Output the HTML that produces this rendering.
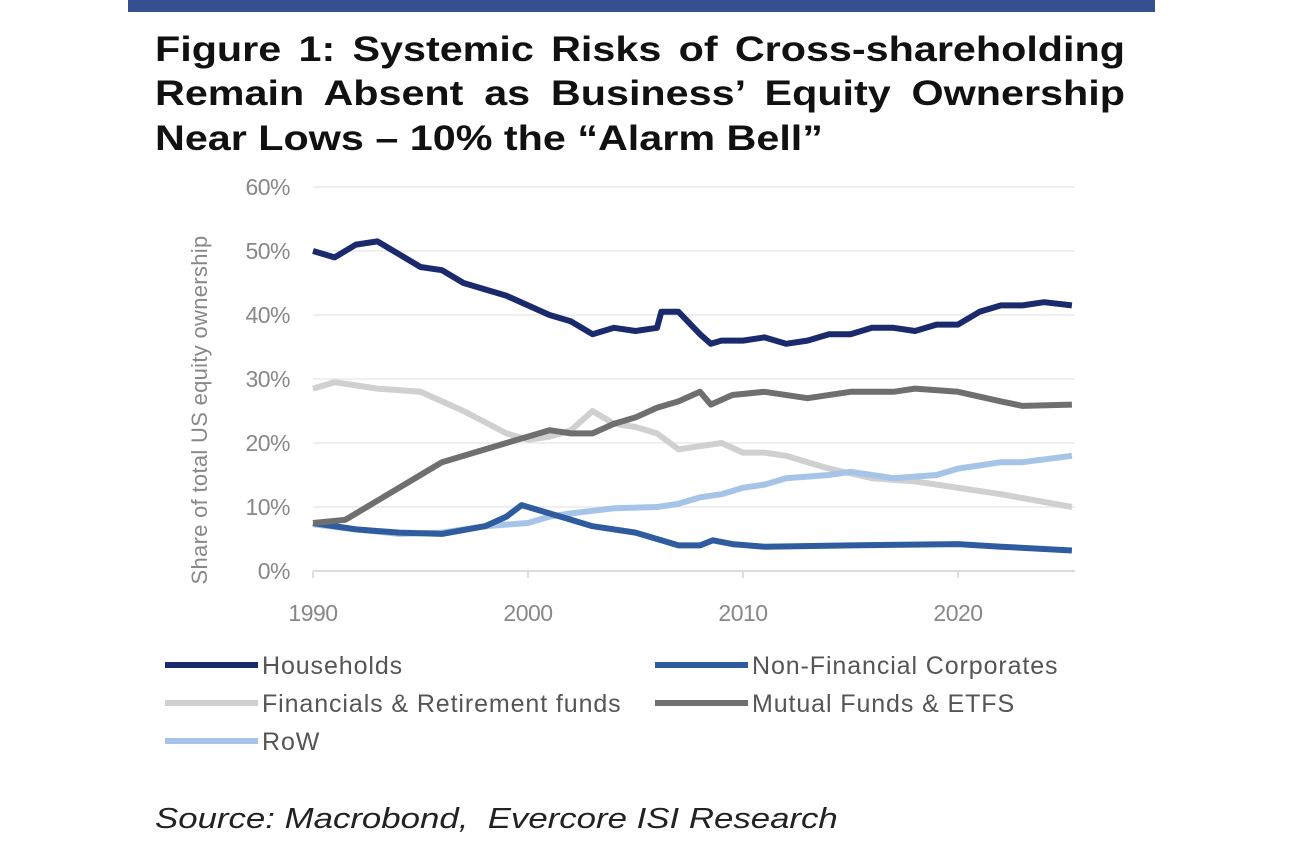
<!DOCTYPE html>
<html><head><meta charset="utf-8"><style>
body{margin:0;background:#fff;width:1290px;height:843px;overflow:hidden;font-family:"Liberation Sans",Arial,sans-serif}
#bar{position:absolute;left:128px;top:0;width:1027px;height:12px;background:#34508f}
.t{position:absolute;left:155px;width:822px;font-weight:bold;font-size:35px;color:#111;text-align:justify;text-align-last:justify;line-height:44px;transform:scaleX(1.18);transform-origin:0 0;white-space:nowrap}
#src{position:absolute;left:155px;top:803px;font-style:italic;font-size:29px;color:#222;transform:scaleX(1.2);transform-origin:0 0}
</style></head><body>
<div id="bar"></div>
<div class="t" style="top:28px">Figure 1: Systemic Risks of Cross-shareholding</div>
<div class="t" style="top:72px">Remain Absent as Business’ Equity Ownership</div>
<div class="t" style="top:117px;text-align:left;text-align-last:left">Near Lows – 10% the “Alarm Bell”</div>
<svg id="s" width="1290" height="843" style="position:absolute;left:0;top:0" font-family="Liberation Sans, Arial, sans-serif"></svg>
<div id="src">Source: Macrobond,&nbsp; Evercore ISI Research</div>
<script>
const X=y=>313+(y-1990)*21.5, Y=v=>571-v*6.4;
let h='';
for(let v=0;v<=60;v+=10){h+=`<line x1="313" x2="1075" y1="${Y(v)}" y2="${Y(v)}" stroke="${v?'#efefef':'#dcdcdc'}" stroke-width="2"/>`;
h+=`<text x="290" y="${Y(v)+8}" text-anchor="end" font-size="23" fill="#888" letter-spacing="-0.5">${v}%</text>`;}
[1990,2000,2010,2020].forEach(y=>{h+=`<line x1="${X(y)}" x2="${X(y)}" y1="571" y2="578" stroke="#ddd" stroke-width="2"/><text x="${X(y)}" y="621" text-anchor="middle" font-size="23" fill="#888" letter-spacing="-0.5">${y}</text>`});
h+=`<text transform="translate(207,410) rotate(-90)" text-anchor="middle" font-size="22" fill="#888" letter-spacing="0.3">Share of total US equity ownership</text>`;
const S=[
['#d0d0d0',[1990,28.5,1991,29.5,1993,28.5,1995,28,1997,25,1999,21.5,2000,20.5,2001,21,2002,22,2003,25,2004,23,2005,22.5,2006,21.5,2007,19,2008,19.5,2009,20,2010,18.5,2011,18.5,2012,18,2014,16,2016,14.5,2018,14,2020,13,2022,12,2025.3,10]],
['#a6c4e8',[1990,7.3,1992,6.5,1994,5.8,1996,6,1998,7,2000,7.5,2001,8.5,2002,9,2004,9.8,2006,10,2007,10.5,2008,11.5,2009,12,2010,13,2011,13.5,2012,14.5,2014,15,2015,15.5,2016,15,2017,14.5,2019,15,2020,16,2022,17,2023,17,2025.3,18]],
['#2e5c9e',[1990,7.5,1992,6.5,1994,6,1996,5.8,1998,7,1999,8.5,1999.7,10.3,2001,9,2002,8,2003,7,2005,6,2006,5,2007,4,2008,4,2008.6,4.8,2009.5,4.2,2011,3.8,2015,4,2020,4.2,2022,3.8,2025.3,3.2]],
['#6f6f6f',[1990,7.5,1991.5,8,1992.5,10,1994,13,1995,15,1996,17,1998,19,2000,21,2001,22,2002,21.5,2003,21.5,2004,23,2005,24,2006,25.5,2007,26.5,2008,28,2008.5,26,2009.5,27.5,2011,28,2013,27,2015,28,2017,28,2018,28.5,2020,28,2022,26.5,2023,25.8,2025.3,26]],
['#1a2a6c',[1990,50,1991,49,1992,51,1993,51.5,1994,49.5,1995,47.5,1996,47,1997,45,1998,44,1999,43,2000,41.5,2001,40,2002,39,2003,37,2004,38,2005,37.5,2006,38,2006.2,40.5,2007,40.5,2008,37,2008.5,35.5,2009,36,2010,36,2011,36.5,2012,35.5,2013,36,2014,37,2015,37,2016,38,2017,38,2018,37.5,2019,38.5,2020,38.5,2021,40.5,2022,41.5,2023,41.5,2024,42,2025.3,41.5]]];
S.forEach(([c,d])=>{let p=[];for(let i=0;i<d.length;i+=2)p.push(X(d[i]).toFixed(1)+','+Y(d[i+1]).toFixed(1));
h+=`<polyline points="${p.join(' ')}" fill="none" stroke="${c}" stroke-width="6" stroke-linejoin="round"/>`});
const L=[[165,665,'#1a2a6c','Households'],[655,665,'#2e5c9e','Non-Financial Corporates'],[165,703,'#d0d0d0','Financials &amp; Retirement funds'],[655,703,'#6f6f6f','Mutual Funds &amp; ETFS'],[165,741,'#a6c4e8','RoW']];
L.forEach(([x,y,c,t])=>{h+=`<line x1="${x}" x2="${x+93}" y1="${y}" y2="${y}" stroke="${c}" stroke-width="6"/><text x="${x+97}" y="${y+9}" font-size="25" fill="#555" letter-spacing="0.9">${t}</text>`});
document.getElementById('s').innerHTML=h;
</script>
</body></html>
